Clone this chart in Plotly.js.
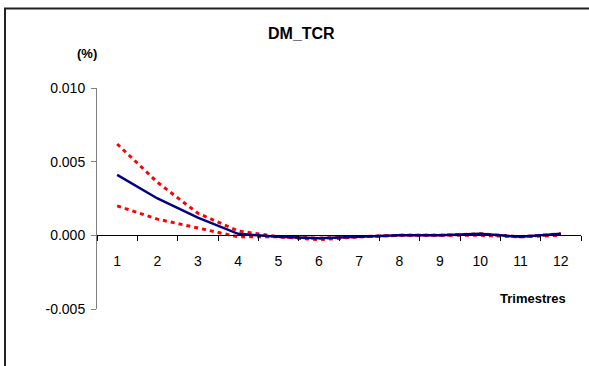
<!DOCTYPE html>
<html>
<head>
<meta charset="utf-8">
<script src="https://cdn.plot.ly/plotly-3.0.1.min.js"></script>
<style>
  html, body { margin: 0; padding: 0; background: #fff; }
  #chart { width: 589px; height: 366px; }
</style>
</head>
<body>
<div id="chart"></div>
<script>
// Quarters after the shock
const quarters = ['1', '2', '3', '4', '5', '6', '7', '8', '9', '10', '11', '12'];

// Impulse response of DM_TCR (%) and its confidence band
const response = [0.0041, 0.0025, 0.0012, 0.0001, -0.0001, -0.0002, -0.0001, 0.0000, 0.0000, 0.0001, -0.0001, 0.0001];
const upperBand = [0.0062, 0.0036, 0.0015, 0.0003, -0.0001, -0.0002, -0.0001, 0.0000, 0.0000, 0.0001, -0.0001, 0.0001];
const lowerBand = [0.0020, 0.0011, 0.0005, -0.0001, -0.0001, -0.0003, -0.0001, 0.0000, 0.0000, 0.0000, -0.0001, 0.0000];

const yTicks = [-0.005, 0, 0.005, 0.010];
const yTickText = ['-0.005', '0.000', '0.005', '0.010'];

const W = 589, H = 366;
const margin = { l: 97, r: 8, t: 88, b: 57 };
const pw = W - margin.l - margin.r;
const ph = H - margin.t - margin.b;
// pixel -> paper helpers for the outer frame
const px = x => (x - margin.l) / pw;
const py = y => 1 - (y - margin.t) / ph;

const band = (vals) => ({
  x: quarters, y: vals, type: 'scatter', mode: 'lines',
  line: { color: '#FF0000', width: 3, dash: '4px,4px' },
  hoverinfo: 'skip'
});

const traces = [
  band(upperBand),
  band(lowerBand),
  {
    x: quarters, y: response, type: 'scatter', mode: 'lines',
    line: { color: '#000080', width: 2.5 }
  }
];

const layout = {
  width: W, height: H,
  margin: margin,
  paper_bgcolor: '#ffffff',
  plot_bgcolor: 'rgba(0,0,0,0)',
  showlegend: false,
  font: { family: 'Liberation Sans, Arial, sans-serif', color: '#000', size: 14 },
  xaxis: {
    type: 'category',
    range: [-0.5, 11.5],
    anchor: 'free',
    position: 1 / 3,
    tickson: 'boundaries',
    ticks: 'outside', ticklen: 5, tickwidth: 1, tickcolor: '#000',
    ticklabelstandoff: 13,
    showline: true, linecolor: '#000', linewidth: 1,
    showgrid: false, zeroline: false,
    tickfont: { size: 14 }
  },
  yaxis: {
    range: [-0.005, 0.010],
    tickvals: yTicks, ticktext: yTickText,
    ticks: 'outside', ticklen: 5, tickwidth: 1, tickcolor: '#808080',
    ticklabelstandoff: 3,
    showline: true, linecolor: '#808080', linewidth: 1,
    showgrid: false, zeroline: false,
    tickfont: { size: 14 }
  },
  shapes: [
    { type: 'line', xref: 'paper', yref: 'paper', x0: px(5), x1: px(5), y0: py(8), y1: py(366),
      line: { color: '#222', width: 2 } },
    { type: 'line', xref: 'paper', yref: 'paper', x0: px(4), x1: px(589), y0: py(8.5), y1: py(8.5),
      line: { color: '#222', width: 2 } }
  ],
  annotations: [
    { text: '<b>DM_TCR</b>', xref: 'paper', yref: 'paper', x: px(301), y: py(33),
      showarrow: false, font: { size: 16 }, xanchor: 'center', yanchor: 'middle' },
    { text: '<b>(%)</b>', xref: 'paper', yref: 'paper', x: px(87), y: py(53),
      showarrow: false, font: { size: 13 }, xanchor: 'center', yanchor: 'middle' },
    { text: '<b>Trimestres</b>', xref: 'paper', yref: 'paper', x: px(533), y: py(298),
      showarrow: false, font: { size: 13 }, xanchor: 'center', yanchor: 'middle' }
  ]
};

Plotly.newPlot('chart', traces, layout, { displayModeBar: false, staticPlot: true });
</script>
</body>
</html>
